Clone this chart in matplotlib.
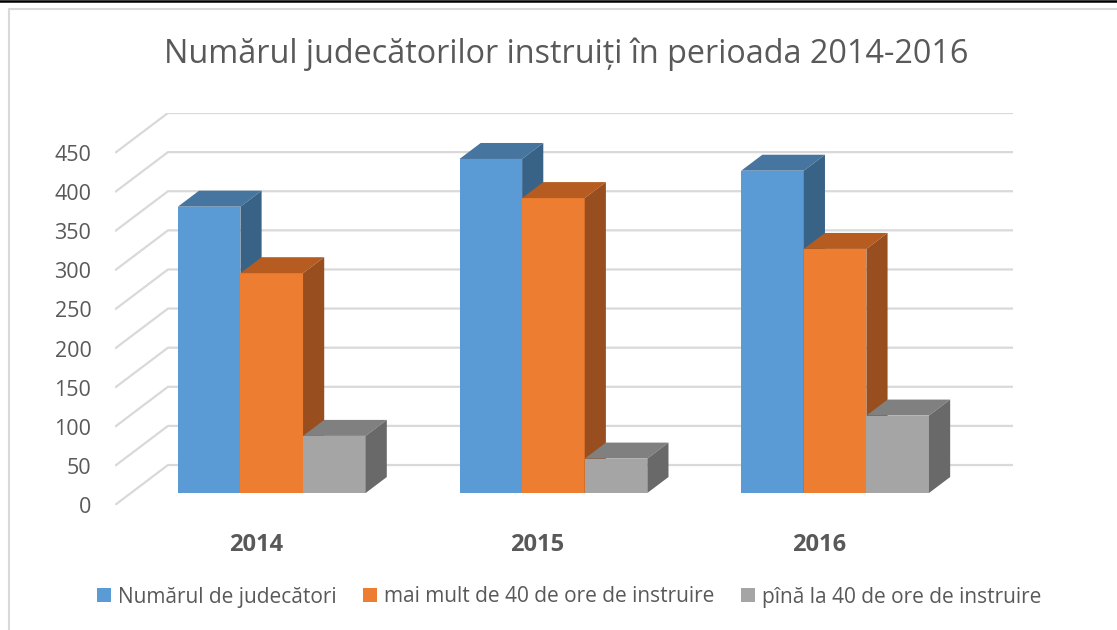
import numpy as np
import matplotlib.pyplot as plt
from matplotlib.patches import Polygon, Patch
from matplotlib.lines import Line2D

plt.rcParams['font.family'] = ['Open Sans', 'DejaVu Sans']

# data
years = ['2014', '2015', '2016']
series_names = ['Numărul de judecători',
                'mai mult de 40 de ore de instruire',
                'pînă la 40 de ore de instruire']
judecatori = [366, 427, 412]
peste_40 = [281, 377, 312]
pana_40 = [73, 44, 99]
yticks = [0, 50, 100, 150, 200, 250, 300, 350, 400, 450]

title = 'Numărul judecătorilor instruiți în perioada 2014-2016'

# face colours: front, top, side
colors = [('#5B9BD5', '#4675A0', '#386387'),
          ('#ED7D31', '#B65C20', '#984E1E'),
          ('#A5A5A5', '#808080', '#696969')]
text_col = '#595959'
grid_col = '#D9D9D9'

# oblique depth of the floor, in data units
DX = 0.188
DY = 51.1
d0, d1 = 0.3, 0.7  # bars sit between these depth fractions
gap = 1.5          # gap width relative to one bar

W, H = 1117, 630
fig = plt.figure(figsize=(W / 100, H / 100), dpi=100)
ax = fig.add_axes([115 / W, (H - 505) / H, (1013 - 115) / W, (505 - 113) / H])
ax.set_xlim(0, len(years) + DX)
ax.set_ylim(0, yticks[-1] + DY)
for s in ax.spines.values():
    s.set_visible(False)

# grid: diagonal on the left wall, then along the back wall
for v in yticks:
    ax.plot([0, DX, len(years) + DX], [v, v + DY, v + DY],
            color=grid_col, lw=1.6, zorder=1, solid_capstyle='butt')

values = [judecatori, peste_40, pana_40]
n = len(values)
bw = 1.0 / (n + gap)
ox, oy = d0 * DX, d0 * DY
ddx, ddy = (d1 - d0) * DX, (d1 - d0) * DY

z = 2
for i in range(len(years)):
    for j in range(n):
        h = values[j][i]
        xl = i + gap * bw / 2 + j * bw + ox
        front, top, side = colors[j]
        ax.bar(xl, h, width=bw, bottom=oy, align='edge', color=front,
               linewidth=0, zorder=z)
        ax.add_patch(Polygon([(xl, oy + h), (xl + bw, oy + h),
                              (xl + bw + ddx, oy + h + ddy), (xl + ddx, oy + h + ddy)],
                             closed=True, facecolor=top, linewidth=0, zorder=z))
        ax.add_patch(Polygon([(xl + bw, oy), (xl + bw + ddx, oy + ddy),
                              (xl + bw + ddx, oy + h + ddy), (xl + bw, oy + h)],
                             closed=True, facecolor=side, linewidth=0, zorder=z))
        z += 1

ax.set_yticks(yticks)
ax.set_yticklabels([str(v) for v in yticks], fontsize=15.5, color=text_col)
ax.set_xticks(np.arange(len(years)) + 0.5)
ax.set_xticklabels(years, fontsize=17, fontweight='bold', color=text_col)
ax.tick_params(axis='y', length=0, pad=17)
ax.tick_params(axis='x', length=0, pad=20)

fig.text(566 / W, (H - 54) / H, title, ha='center', va='center',
         fontsize=23.3, color=text_col)

handles = [Patch(facecolor=c[0], edgecolor='none') for c in colors]
fig.legend(handles, series_names, loc='center', bbox_to_anchor=(569 / W, (H - 597) / H),
           ncol=3, frameon=False, fontsize=15, labelcolor=text_col,
           handlelength=0.68, handleheight=0.68, handletextpad=0.3,
           columnspacing=1.3)

# chart frame
fig.add_artist(Line2D([0, 1], [1 - 0.8 / H, 1 - 0.8 / H], color='black', lw=1.8))
fig.add_artist(Line2D([8.5 / W, 8.5 / W, 1], [0, 1 - 8.5 / H, 1 - 8.5 / H],
                      color=grid_col, lw=1.5))

fig.savefig('out.png', dpi=100)
